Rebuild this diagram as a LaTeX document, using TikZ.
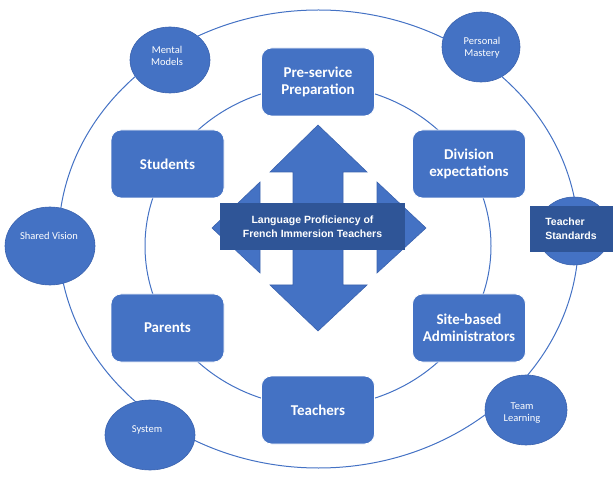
\documentclass[tikz,border=0pt]{standalone}
\usepackage{fontspec}
\setmainfont{Carlito}
\newfontfamily\arialfont{Liberation Sans}
\usetikzlibrary{shapes.geometric}
\definecolor{officeblue}{HTML}{4472C4}
\definecolor{darkblue}{HTML}{2F5597}
\definecolor{edgeblue}{HTML}{3A62AE}

\begin{document}
\begin{tikzpicture}[x=1pt, y=-1pt,
  every node/.style={text=white, align=center},
  agent/.style={rectangle, rounded corners=10pt, fill=officeblue, draw=white, line width=0.8pt, minimum width=113pt, minimum height=68pt, font=\bfseries\fontsize{15}{17}\selectfont},
  discipline/.style={ellipse, fill=officeblue, draw=edgeblue, line width=0.6pt, inner sep=0pt},
  disclabel/.style={inner sep=0pt, font=\fontsize{10.5}{12}\selectfont},
  banner/.style={rectangle, fill=darkblue, inner sep=0pt, font=\arialfont\bfseries\fontsize{10.5}{14}\selectfont},
  ring/.style={draw=officeblue, line width=1pt}]
\useasboundingbox (0,0) rectangle (613,478);

% disciplines under the outer ring
\node[discipline, minimum width=80pt, minimum height=66pt] (mental) at (170,60) {}; % Mental Models
\node[discipline, minimum width=78pt, minimum height=70pt] (mastery) at (481,47) {}; % Personal Mastery
\node[discipline, minimum width=90pt, minimum height=78pt] (vision) at (50,246) {}; % Shared Vision
\node[discipline, minimum width=82pt, minimum height=70pt] (team) at (526,410) {}; % Team Learning

\draw[ring] (318.5,239) ellipse [x radius=260pt, y radius=229pt]; % outer ring
\draw[ring] (318,246) ellipse [x radius=173pt, y radius=161pt]; % inner ring

% disciplines over the outer ring
\node[discipline, minimum width=90pt, minimum height=70pt] (system) at (150,435) {}; % System
\node[discipline, minimum width=74pt, minimum height=68pt] (standardsring) at (574,231) {}; % Teacher Standards

\node[disclabel] (mentaltext) at (167,56) {Mental\\Models};
\node[disclabel] (masterytext) at (482,48) {Personal\\Mastery};
\node[disclabel] (visiontext) at (49,236) {Shared Vision};
\node[disclabel] (teamtext) at (522,413) {Team\\Learning};
\node[disclabel] (systemtext) at (147,430) {System};

% quad arrow
\draw[fill=officeblue, draw=edgeblue, line width=0.6pt] (318,125) -- (367,172) -- (343,172) -- (343,208) -- (377,208) -- (377,182) -- (426,228) -- (377,273) -- (377,248) -- (343,248) -- (343,285) -- (367,285) -- (318,331) -- (270,285) -- (293,285) -- (293,248) -- (260,248) -- (260,273) -- (212,228) -- (260,182) -- (260,208) -- (293,208) -- (293,172) -- (270,172) -- cycle;

% stakeholders
\node[agent] (prep) at (318,82) {Pre-service\\Preparation};
\node[agent] (students) at (167.5,164) {Students};
\node[agent] (division) at (469,164) {Division\\expectations};
\node[agent] (parents) at (167.5,328) {Parents};
\node[agent] (admin) at (469,328) {Site-based\\Administrators};
\node[agent] (teachers) at (318,410) {Teachers};

\node[banner, minimum width=185pt, minimum height=47pt] (core) at (312.5,226.5) {Language Proficiency of\\French Immersion Teachers};
\node[banner, minimum width=83pt, minimum height=46pt, align=left] (standards) at (571,229) {Teacher\\Standards};
\end{tikzpicture}
\end{document}
